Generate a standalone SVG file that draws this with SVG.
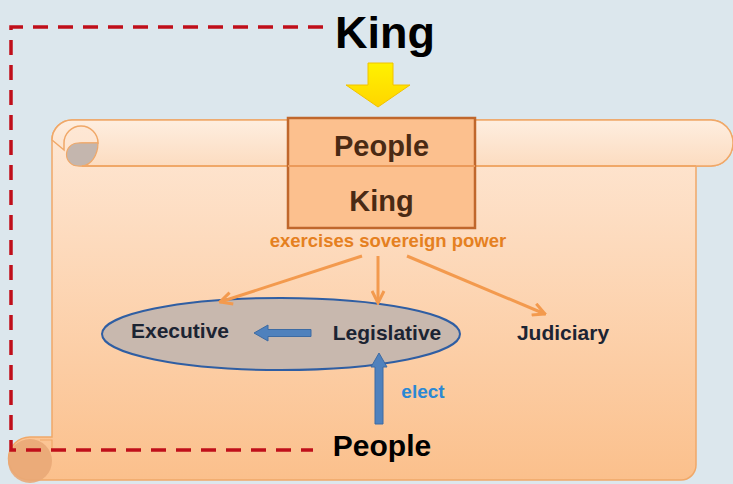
<svg xmlns="http://www.w3.org/2000/svg" width="733" height="484" viewBox="0 0 733 484">
  <defs>
    <linearGradient id="bodyGrad" x1="0" y1="0" x2="0" y2="1">
      <stop offset="0" stop-color="#fee8d6"/>
      <stop offset="1" stop-color="#fbc08c"/>
    </linearGradient>
    <linearGradient id="barGrad" x1="0" y1="0" x2="0" y2="1">
      <stop offset="0" stop-color="#feeee0"/>
      <stop offset="1" stop-color="#fcdcc0"/>
    </linearGradient>
    <linearGradient id="yellowGrad" x1="0" y1="0" x2="0" y2="1">
      <stop offset="0" stop-color="#fff200"/>
      <stop offset="1" stop-color="#ffd500"/>
    </linearGradient>
    <marker id="orangeHead" viewBox="0 0 10 10" refX="9" refY="5" markerWidth="5" markerHeight="5" orient="auto" markerUnits="strokeWidth">
      <path d="M1,1 L9,5 L1,9" fill="none" stroke="#f39a4e" stroke-width="2" stroke-linejoin="miter"/>
    </marker>
  </defs>
  <style>
    .bold { font-family: "Liberation Sans", Arial, sans-serif; font-weight: bold; }
    .title { font-size: 45px; fill: #000; }
    .boxlabel { font-size: 29px; fill: #4a2a14; }
    .branch { font-size: 21px; fill: #1c2433; }
    .power { font-size: 18.5px; fill: #e5801f; }
    .elect { font-size: 19px; fill: #2a88d4; }
    .orange { stroke: #f39a4e; stroke-width: 3; fill: none; marker-end: url(#orangeHead); }
    .dashed { stroke: #c00f1a; stroke-width: 3.5; fill: none; stroke-dasharray: 15 10; }
    .blueArrow { fill: #4f81bd; stroke: #3d6ba3; stroke-width: 1; }
  </style>

  <!-- background -->
  <rect x="0" y="0" width="733" height="484" fill="#dce7ed"/>

  <!-- scroll parchment -->
  <g id="scroll">
    <path d="M52,140 A20,20 0 0 1 72,120 L711,120 A22,23 0 0 1 711,166 L696,166 L696,465 A15,15 0 0 1 681,480 L30,480 A21.5,21.5 0 0 1 30,437 L52,437 Z" fill="url(#bodyGrad)" stroke="#f0a868" stroke-width="1.5"/>
    <path d="M52,140 A20,20 0 0 1 72,120 L711,120 A22,23 0 0 1 711,166 L82,166 A11.5,11.5 0 0 1 82,143 L98,143 A17,17 0 0 0 64,143 L64,150 Z" fill="url(#barGrad)" stroke="#f0a868" stroke-width="1.5"/>
    <!-- top curl -->
    <path d="M98,143 L78,143 A11.5,11.5 0 0 0 78,166 L82,166 A17,23 0 0 0 98,143 Z" fill="#c4b6ae" stroke="#f0a868" stroke-width="1.2"/>
    <line x1="82" y1="166" x2="696" y2="166" stroke="#f0a868" stroke-width="2"/>
    <!-- bottom curl -->
    <circle cx="30" cy="461" r="22" fill="#e9a877" opacity="0.9"/>
    <path d="M40,440 L52,440 L52,450" fill="none" stroke="#f0a868" stroke-width="1.2"/>
  </g>

  <g id="parliament">
    <ellipse cx="281" cy="334" rx="179" ry="36" fill="#c8b8ae" stroke="#2f5ea3" stroke-width="2"/>
  </g>

  <!-- connectors -->
  <g id="connectors">
    <polyline class="dashed" points="323,27 11,27 11,450 313,450"/>
    <path d="M368,63 L393,63 L393,85 L410,85 L378,107 L346,85 L368,85 Z" fill="url(#yellowGrad)" stroke="#f2c200" stroke-width="1"/>
    <line class="orange" x1="362" y1="256" x2="220" y2="302"/>
    <line class="orange" x1="378" y1="256" x2="378" y2="303"/>
    <line class="orange" x1="407" y1="256" x2="545" y2="314"/>
    <!-- legislative to executive -->
    <path class="blueArrow" d="M311,329.5 L268,329.5 L268,325 L254,333 L268,341 L268,336.5 L311,336.5 Z"/>
    <!-- people elect legislative -->
    <path class="blueArrow" d="M375,424 L375,367 L371,367 L379,353 L387,367 L383,367 L383,424 Z"/>
  </g>

  <g id="king-top">
    <text class="bold title" x="385" y="48" text-anchor="middle">King</text>
  </g>

  <g id="sovereign-box">
    <rect x="288" y="118" width="187" height="110" fill="#fcc08e" stroke="#c0672c" stroke-width="2.5"/>
    <line x1="288" y1="166" x2="475" y2="166" stroke="#eb9a5a" stroke-width="2"/>
    <text class="bold boxlabel" x="381.5" y="156" text-anchor="middle">People</text>
    <text class="bold boxlabel" x="381.5" y="211" text-anchor="middle">King</text>
  </g>

  <g id="power-label">
    <text class="bold power" x="388" y="247" text-anchor="middle">exercises sovereign power</text>
  </g>

  <g id="executive">
    <text class="bold branch" x="180" y="338" text-anchor="middle">Executive</text>
  </g>

  <g id="legislative">
    <text class="bold branch" x="387" y="340" text-anchor="middle">Legislative</text>
  </g>

  <g id="judiciary">
    <text class="bold branch" x="563" y="340" text-anchor="middle">Judiciary</text>
  </g>

  <g id="elect-label">
    <text class="bold elect" x="423" y="398" text-anchor="middle">elect</text>
  </g>

  <g id="people-bottom">
    <text class="bold title" x="382" y="456" text-anchor="middle" style="font-size:30px">People</text>
  </g>
</svg>
